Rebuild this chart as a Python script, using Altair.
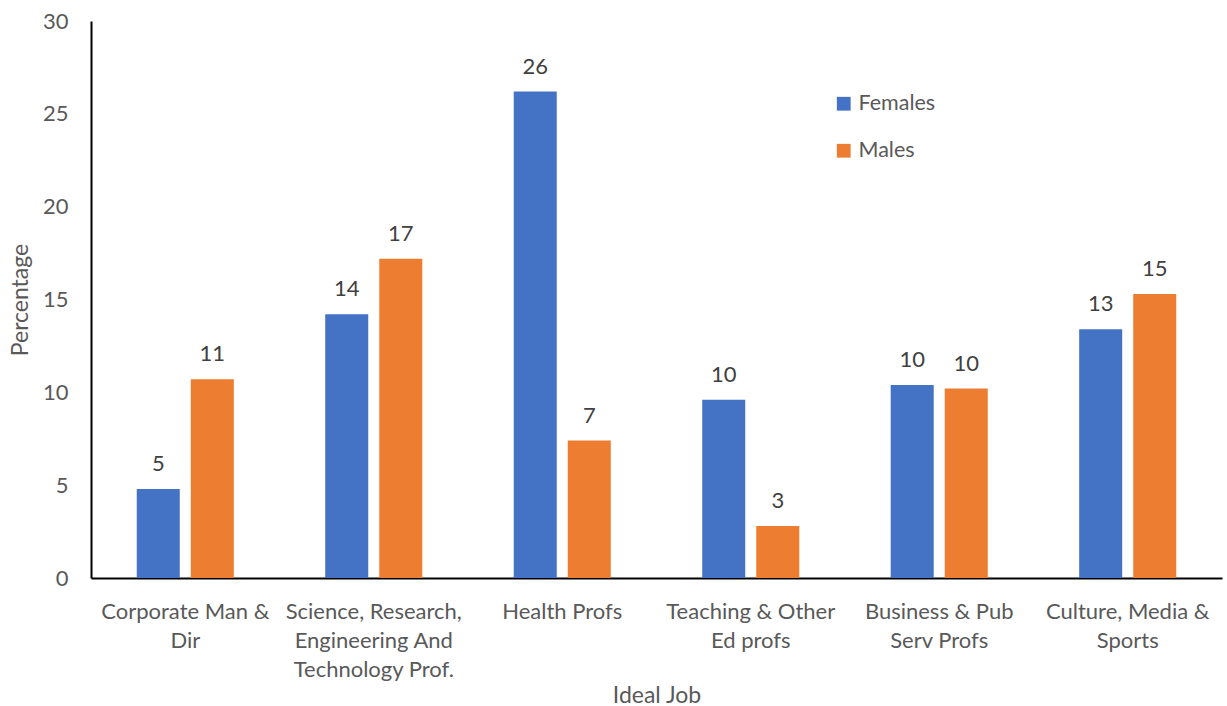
import altair as alt
import pandas as pd

# Ideal job categories (line breaks mark where the axis label wraps)
jobs = [
    "Corporate Man &\nDir",
    "Science, Research,\nEngineering And\nTechnology Prof.",
    "Health Profs",
    "Teaching & Other\nEd profs",
    "Business & Pub\nServ Profs",
    "Culture, Media &\nSports",
]
females = [4.8, 14.2, 26.2, 9.6, 10.4, 13.4]
males = [10.7, 17.2, 7.4, 2.8, 10.2, 15.3]
groups = ["Females", "Males"]
colors = ["#4472C4", "#ED7D31"]
y_ticks = [0, 5, 10, 15, 20, 25, 30]

rows = []
for job, f, m in zip(jobs, females, males):
    rows.append({"job": job, "group": groups[0], "pct": f})
    rows.append({"job": job, "group": groups[1], "pct": m})
df = pd.DataFrame(rows)

FONT = "Lato"
GREY = "#595959"
W, H = 1131, 557

x_enc = alt.X(
    "job:N",
    sort=jobs,
    scale=alt.Scale(paddingInner=0.485, paddingOuter=0.2427),
    axis=alt.Axis(
        title="Ideal Job",
        labelExpr="split(datum.label, '\\n')",
        labelAngle=0,
        labelBaseline="alphabetic",
        labelPadding=40,
        labelLineHeight=29,
        labelFontSize=22,
        labelColor=GREY,
        labelLimit=400,
        ticks=False,
        tickSize=0,
        domainColor="black",
        domainWidth=2,
        titleFontSize=23,
        titleFontWeight="normal",
        titleColor=GREY,
        titleX=W / 2,
        titleY=117,
        titleAlign="center",
        titleBaseline="middle",
    ),
)
xoff_enc = alt.XOffset(
    "group:N", sort=groups, scale=alt.Scale(paddingInner=0.204, paddingOuter=0)
)
y_enc = alt.Y(
    "pct:Q",
    scale=alt.Scale(domain=[0, 30], nice=False),
    axis=alt.Axis(
        title="Percentage",
        values=y_ticks,
        grid=False,
        ticks=False,
        tickSize=0,
        labelPadding=23,
        labelFontSize=22,
        labelColor=GREY,
        domainColor="black",
        domainWidth=2,
        titleFontSize=23,
        titleFontWeight="normal",
        titleColor=GREY,
        titleAngle=270,
        titleX=-71,
        titleY=H / 2,
        titleAlign="center",
        titleBaseline="middle",
    ),
)

bars = alt.Chart(df).mark_bar().encode(
    x=x_enc,
    xOffset=xoff_enc,
    y=y_enc,
    color=alt.Color(
        "group:N",
        sort=groups,
        scale=alt.Scale(domain=groups, range=colors),
        legend=alt.Legend(
            title=None,
            orient="none",
            legendX=742,
            legendY=72,
            padding=0,
            symbolType="square",
            symbolSize=190,
            symbolStrokeWidth=0,
            labelFontSize=21.5,
            labelColor=GREY,
            labelOffset=4,
            rowPadding=24,
        ),
    ),
)

labels = alt.Chart(df).mark_text(
    baseline="alphabetic", dy=-18, fontSize=22, color="#404040", font=FONT
).encode(
    x=alt.X("job:N", sort=jobs),
    xOffset=alt.XOffset("group:N", sort=groups),
    y=alt.Y("pct:Q"),
    text=alt.Text("pct:Q", format=".0f"),
)

chart = (
    alt.layer(bars, labels)
    .properties(
        width=W,
        height=H,
        autosize="none",
        padding={"left": 91, "top": 21, "right": 5, "bottom": 128},
        background="white",
    )
    .configure(font=FONT)
    .configure_view(stroke=None)
)

chart.save("out.html", embed_options={"renderer": "svg", "actions": False})
